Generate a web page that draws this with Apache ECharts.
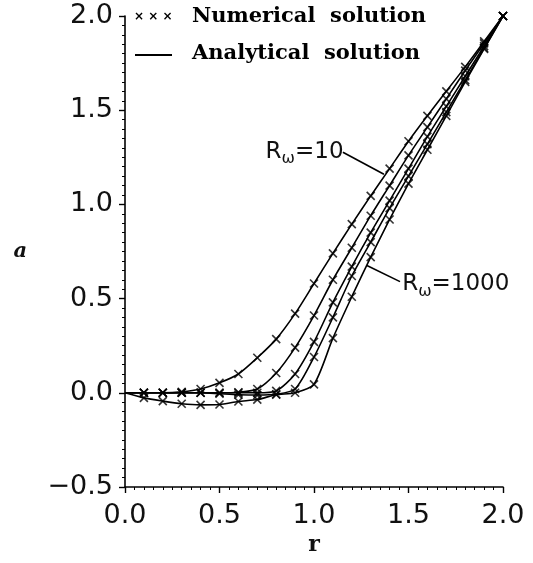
<!DOCTYPE html>
<html>
<head>
<meta charset="utf-8">
<script src="https://cdn.jsdelivr.net/npm/echarts@6/dist/echarts.min.js"></script>
<style>
  html, body { margin: 0; padding: 0; background: #fff; }
  #chart { width: 533px; height: 563px; }
</style>
</head>
<body>
<div id="chart"></div>
<script>
// radial position r (x axis)
const rValues = [0, 0.1, 0.2, 0.3, 0.4, 0.5, 0.6, 0.7, 0.8, 0.9, 1.0,
                 1.1, 1.2, 1.3, 1.4, 1.5, 1.6, 1.7, 1.8, 1.9, 2.0];

// a(r) for each curve, from Rw=10 (left) to Rw=1000 (right)
const aRw10   = [0, 0, 0, 0.005, 0.02, 0.053, 0.10, 0.186, 0.285, 0.42, 0.58,
                 0.74, 0.895, 1.045, 1.19, 1.335, 1.47, 1.60, 1.73, 1.865, 2.0];
const aCurve2 = [0, 0, 0, 0, 0, 0, 0.003, 0.02, 0.105, 0.24, 0.41,
                 0.60, 0.77, 0.94, 1.10, 1.26, 1.41, 1.56, 1.71, 1.855, 2.0];
const aCurve3 = [0, 0, 0, 0, 0, 0, 0, 0, 0.01, 0.10, 0.27,
                 0.48, 0.67, 0.85, 1.02, 1.19, 1.36, 1.52, 1.68, 1.84, 2.0];
const aCurve4 = [0, 0, 0, 0, 0, -0.005, -0.01, -0.012, -0.008, 0.02, 0.19,
                 0.40, 0.62, 0.80, 0.98, 1.15, 1.32, 1.49, 1.66, 1.83, 2.0];
const aRw1000 = [0, -0.027, -0.044, -0.058, -0.064, -0.062, -0.046, -0.036, -0.01, 0, 0.045,
                 0.29, 0.51, 0.72, 0.92, 1.11, 1.29, 1.47, 1.65, 1.825, 2.0];

const curves = [aRw10, aCurve2, aCurve3, aCurve4, aRw1000];

const xTicks = { min: 0, max: 2, interval: 0.5 };
const yTicks = { min: -0.5, max: 2, interval: 0.5 };

const crossSymbol = 'path://M0,0L10,10M10,0L0,10';
const tickFont = 'DejaVu Sans';
const serifFont = 'DejaVu Serif';

function pairs(values, skipFirst) {
    const out = [];
    values.forEach((v, i) => {
        if (skipFirst && i === 0) return;
        out.push([rValues[i], v]);
    });
    return out;
}

function fmt(v) {
    const s = Math.abs(v).toFixed(1);
    return v < 0 ? '\u2212' + s : s;
}

const rich = {
    r: { fontFamily: tickFont, fontSize: 23, color: '#111', lineHeight: 30 },
    w: { fontFamily: tickFont, fontSize: 16, color: '#111', verticalAlign: 'bottom', lineHeight: 16 }
};

const series = [];
curves.forEach((vals, idx) => {
    const line = {
        name: 'Analytical solution',
        type: 'line',
        data: pairs(vals, false),
        smooth: 0.25,
        showSymbol: false,
        silent: true,
        lineStyle: { color: '#000', width: 1.6 },
        z: 2
    };
    if (idx === 0) {
        line.markLine = {
            silent: true,
            symbol: ['none', 'none'],
            label: { show: false },
            lineStyle: { color: '#000', width: 1.6, type: 'solid' },
            data: [
                [{ coord: [1.153, 1.277] }, { coord: [1.37, 1.16] }],
                [{ coord: [1.455, 0.59] }, { coord: [1.28, 0.676] }]
            ]
        };
        line.markPoint = {
            silent: true,
            symbol: 'circle',
            symbolSize: 0,
            label: { show: true, position: 'inside', rich: rich },
            data: [
                { coord: [0.95, 1.28], label: { formatter: '{r|R}{w|\u03c9}{r|=10}' } },
                { coord: [1.75, 0.575], label: { formatter: '{r|R}{w|\u03c9}{r|=1000}' } }
            ]
        };
    }
    series.push(line);
    series.push({
        name: 'Numerical solution',
        type: 'scatter',
        data: pairs(vals, true),
        symbol: crossSymbol,
        symbolSize: 8,
        silent: true,
        itemStyle: { color: '#000', borderColor: '#000', borderWidth: 1.6 },
        z: 3
    });
});

const chart = echarts.init(document.getElementById('chart'), null, { renderer: 'canvas' });

chart.setOption({
    animation: false,
    backgroundColor: '#fff',
    grid: { left: 125, right: 30, top: 16, bottom: 76, containLabel: false, outerBoundsMode: 'none' },
    xAxis: {
        type: 'value',
        min: xTicks.min, max: xTicks.max, interval: xTicks.interval,
        name: 'r',
        nameLocation: 'middle',
        nameGap: 36,
        nameTextStyle: { fontFamily: serifFont, fontWeight: 'bold', fontSize: 22, color: '#111' },
        axisLine: { onZero: false, lineStyle: { color: '#000', width: 1.6 } },
        axisTick: { inside: false, length: 6, lineStyle: { color: '#000', width: 1.4 } },
        minorTick: { show: true, splitNumber: 10, length: 3, lineStyle: { color: '#000', width: 1 } },
        splitLine: { show: false },
        axisLabel: { formatter: fmt, fontFamily: tickFont, fontSize: 27, color: '#111', margin: 15 }
    },
    yAxis: {
        type: 'value',
        min: yTicks.min, max: yTicks.max, interval: yTicks.interval,
        name: 'a',
        nameLocation: 'middle',
        nameRotate: 0,
        nameGap: 98,
        nameTextStyle: { fontFamily: serifFont, fontWeight: 'bold', fontStyle: 'italic', fontSize: 21, color: '#111', padding: [0, 0, 18, 0] },
        axisLine: { onZero: false, lineStyle: { color: '#000', width: 1.6 } },
        axisTick: { inside: false, length: 6, lineStyle: { color: '#000', width: 1.4 } },
        minorTick: { show: true, splitNumber: 10, length: 3, lineStyle: { color: '#000', width: 1 } },
        splitLine: { show: false },
        axisLabel: { formatter: fmt, fontFamily: tickFont, fontSize: 27, color: '#111', margin: 12 }
    },
    graphic: [
        {
            type: 'text', left: 134, top: 11,
            style: { text: '\u00d7 \u00d7 \u00d7', font: 'bold 12px DejaVu Sans', fill: '#000' }
        },
        {
            type: 'text', left: 192, top: 6,
            style: { text: 'Numerical  solution', font: 'bold 21px "DejaVu Serif"', fill: '#000' }
        },
        {
            type: 'line', shape: { x1: 135, y1: 55, x2: 172, y2: 55 },
            style: { stroke: '#000', lineWidth: 2 }
        },
        {
            type: 'text', left: 192, top: 43,
            style: { text: 'Analytical  solution', font: 'bold 21px "DejaVu Serif"', fill: '#000' }
        }
    ],
    series: series
});
</script>
</body>
</html>
